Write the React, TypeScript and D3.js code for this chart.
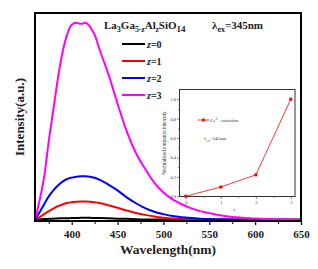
import React, { useEffect, useRef } from 'react';
import * as d3 from 'd3';

// emission spectra (normalised so z=3 peak = 1)
const wavelengths = [360, 365, 370, 375, 380, 385, 390, 395, 400, 405, 410, 415, 420, 425, 430, 440, 450, 460, 470, 480, 490, 500, 510, 520, 530, 540, 550, 560, 575, 600, 625, 650];
const z0 = [0, 0.003, 0.005, 0.006, 0.007, 0.008, 0.009, 0.009, 0.01, 0.01, 0.011, 0.011, 0.011, 0.01, 0.01, 0.009, 0.007, 0.006, 0.004, 0.003, 0.003, 0.002, 0.002, 0.002, 0.001, 0.001, 0.001, 0.001, 0.001, 0.001, 0.001, 0.001];
const z1 = [0, 0.015, 0.03, 0.045, 0.058, 0.07, 0.079, 0.086, 0.09, 0.093, 0.094, 0.094, 0.093, 0.09, 0.086, 0.075, 0.062, 0.048, 0.036, 0.026, 0.018, 0.012, 0.008, 0.006, 0.004, 0.003, 0.002, 0.002, 0.001, 0.001, 0.001, 0.001];
const z2 = [0, 0.04, 0.08, 0.12, 0.15, 0.175, 0.195, 0.208, 0.215, 0.22, 0.222, 0.222, 0.22, 0.214, 0.205, 0.18, 0.15, 0.115, 0.085, 0.06, 0.042, 0.03, 0.02, 0.014, 0.01, 0.007, 0.005, 0.004, 0.003, 0.002, 0.001, 0.001];
const z3 = [0, 0.1, 0.22, 0.4, 0.56, 0.72, 0.85, 0.94, 0.99, 1.0, 0.995, 1.0, 0.98, 0.94, 0.87, 0.74, 0.59, 0.45, 0.34, 0.26, 0.19, 0.14, 0.105, 0.08, 0.06, 0.045, 0.035, 0.025, 0.015, 0.008, 0.004, 0.002];
const seriesNames = ['z=0', 'z=1', 'z=2', 'z=3'];
const seriesColors = ['#000000', '#ff0000', '#0000ff', '#ff00ff'];
const xTicks = [400, 450, 500, 550, 600, 650];

// inset: normalised Ce3+ emission intensity
const insetZ = [0, 1, 2, 3];
const insetVals = [0.0, 0.095, 0.22, 1.0];
const insetYTicks = [0, 0.2, 0.4, 0.6, 0.8, 1.0];

const W = 318;
const H = 269;

function Chart() {
  const ref = useRef<SVGSVGElement>(null);

  useEffect(() => {
    const svg = d3.select(ref.current);
    svg.selectAll('*').remove();
    const font = 'Liberation Serif, Times New Roman, serif';

    const left = 35, right = 301, top = 13, bottom = 221;
    const x = d3.scaleLinear().domain([360, 650]).range([left, right]);
    const y = d3.scaleLinear().domain([-0.005, 1.05]).range([bottom, top]);

    const line = d3.line<[number, number]>()
      .x(d => x(d[0]))
      .y(d => y(d[1]))
      .curve(d3.curveMonotoneX);

    const allSeries = [z0, z1, z2, z3];
    const g = svg.append('g');
    allSeries.forEach((vals, i) => {
      g.append('path')
        .attr('d', line(wavelengths.map((w, k) => [w, vals[k]] as [number, number])))
        .attr('fill', 'none')
        .attr('stroke', seriesColors[i])
        .attr('stroke-width', 2);
    });

    // bottom axis
    const xAxis = svg.append('g')
      .attr('transform', `translate(0,${bottom})`)
      .call(d3.axisBottom(x).tickValues(xTicks).tickSize(4).tickFormat(d3.format('d')));
    xAxis.select('.domain').remove();
    xAxis.selectAll('line').attr('stroke', '#000').attr('stroke-width', 1.2);
    xAxis.selectAll('text')
      .attr('font-family', font).attr('font-weight', 'bold').attr('font-size', 11)
      .attr('fill', '#222').attr('dy', '0.9em');
    const minor = svg.append('g')
      .attr('transform', `translate(0,${bottom})`)
      .call(d3.axisBottom(x).tickValues([375, 425, 475, 525, 575, 625]).tickSize(3).tickFormat(() => ''));
    minor.select('.domain').remove();
    minor.selectAll('line').attr('stroke', '#000').attr('stroke-width', 1);

    // frame
    svg.append('rect')
      .attr('x', left).attr('y', top)
      .attr('width', right - left).attr('height', bottom - top)
      .attr('fill', 'none').attr('stroke', '#000').attr('stroke-width', 2);

    // axis titles
    svg.append('text')
      .attr('x', (left + right) / 2).attr('y', 254)
      .attr('text-anchor', 'middle')
      .attr('font-family', font).attr('font-weight', 'bold').attr('font-size', 13.5)
      .attr('fill', '#222')
      .text('Wavelength(nm)');
    svg.append('text')
      .attr('transform', `translate(24,${(top + bottom) / 2}) rotate(-90)`)
      .attr('text-anchor', 'middle')
      .attr('font-family', font).attr('font-weight', 'bold').attr('font-size', 13)
      .attr('fill', '#222')
      .text('Intensity(a.u.)');

    // title
    const title = svg.append('text')
      .attr('x', 104).attr('y', 29)
      .attr('font-family', font).attr('font-weight', 'bold').attr('font-size', 11)
      .attr('fill', '#222');
    title.append('tspan').text('La');
    title.append('tspan').attr('font-size', 8).attr('dy', 2.5).text('3');
    title.append('tspan').attr('dy', -2.5).text('Ga');
    title.append('tspan').attr('font-size', 8).attr('dy', 2.5).text('5-');
    title.append('tspan').attr('font-size', 8).attr('font-style', 'italic').text('z');
    title.append('tspan').attr('dy', -2.5).text('Al');
    title.append('tspan').attr('font-size', 8).attr('font-style', 'italic').attr('dy', 2.5).text('z');
    title.append('tspan').attr('dy', -2.5).text('SiO');
    title.append('tspan').attr('font-size', 9).attr('dy', 2.5).text('14');
    const lam = svg.append('text')
      .attr('x', 212).attr('y', 29)
      .attr('font-family', font).attr('font-weight', 'bold').attr('font-size', 11)
      .attr('fill', '#222');
    lam.append('tspan').text('λ');
    lam.append('tspan').attr('font-size', 8).attr('dy', 2.5).text('ex');
    lam.append('tspan').attr('dy', -2.5).text('=345nm');

    // legend
    seriesNames.forEach((name, i) => {
      const ly = 44 + i * 17;
      svg.append('line')
        .attr('x1', 122).attr('x2', 145).attr('y1', ly).attr('y2', ly)
        .attr('stroke', seriesColors[i]).attr('stroke-width', 2);
      const t = svg.append('text')
        .attr('x', 147).attr('y', ly + 3.5)
        .attr('font-family', font).attr('font-weight', 'bold').attr('font-size', 10)
        .attr('fill', '#222');
      t.append('tspan').attr('font-style', 'italic').text(name.slice(0, 1));
      t.append('tspan').text(name.slice(1));
    });

    // inset
    const il = 179.5, ir = 295, it = 89.5, ib = 196.5;
    const ix = d3.scaleLinear().domain([-0.18, 3.12]).range([il, ir]);
    const iy = d3.scaleLinear().domain([-0.003, 1.1]).range([ib, it]);
    svg.append('rect')
      .attr('x', il).attr('y', it).attr('width', ir - il).attr('height', ib - it)
      .attr('fill', '#fff').attr('stroke', '#333').attr('stroke-width', 1);

    const iyAxis = svg.append('g')
      .attr('transform', `translate(${il},0)`)
      .call(d3.axisLeft(iy).tickValues(insetYTicks).tickSize(2.5).tickPadding(1).tickFormat(d3.format('.1f')));
    iyAxis.select('.domain').remove();
    iyAxis.selectAll('line').attr('stroke', '#333').attr('stroke-width', 0.6);
    iyAxis.selectAll('text').attr('font-family', font).attr('font-size', 4.5).attr('fill', '#333');
    const iyMinor = svg.append('g')
      .attr('transform', `translate(${il},0)`)
      .call(d3.axisLeft(iy).tickValues([0.1, 0.3, 0.5, 0.7, 0.9]).tickSize(1.5).tickFormat(() => ''));
    iyMinor.select('.domain').remove();
    iyMinor.selectAll('line').attr('stroke', '#333').attr('stroke-width', 0.5);

    const ixAxis = svg.append('g')
      .attr('transform', `translate(0,${ib})`)
      .call(d3.axisBottom(ix).tickValues(insetZ).tickSize(2.5).tickPadding(2).tickFormat(d3.format('d')));
    ixAxis.select('.domain').remove();
    ixAxis.selectAll('line').attr('stroke', '#333').attr('stroke-width', 0.6);
    ixAxis.selectAll('text').attr('font-family', font).attr('font-size', 4.5).attr('fill', '#333');
    const ixMinor = svg.append('g')
      .attr('transform', `translate(0,${ib})`)
      .call(d3.axisBottom(ix).tickValues([0.5, 1.5, 2.5]).tickSize(1.5).tickFormat(() => ''));
    ixMinor.select('.domain').remove();
    ixMinor.selectAll('line').attr('stroke', '#333').attr('stroke-width', 0.5);

    svg.append('text')
      .attr('x', (il + ir) / 2 - 3).attr('y', 211)
      .attr('text-anchor', 'middle')
      .attr('font-family', font).attr('font-style', 'italic').attr('font-size', 5)
      .attr('fill', '#333').text('z');
    svg.append('text')
      .attr('transform', `translate(166,${(it + ib) / 2}) rotate(-90)`)
      .attr('text-anchor', 'middle')
      .attr('font-family', font).attr('font-size', 5.2)
      .attr('fill', '#333').text('Normalized emission intensity');

    const iline = d3.line<number>()
      .x((_, k) => ix(insetZ[k]))
      .y(d => iy(d));
    svg.append('path')
      .attr('d', iline(insetVals))
      .attr('fill', 'none').attr('stroke', '#ff0000').attr('stroke-width', 0.8);
    svg.selectAll('rect.pt')
      .data(insetVals)
      .join('rect')
      .attr('class', 'pt')
      .attr('x', (_, k) => ix(insetZ[k]) - 1.5)
      .attr('y', d => iy(d) - 1.5)
      .attr('width', 3).attr('height', 3)
      .attr('fill', '#ff0000');

    // inset legend
    svg.append('line')
      .attr('x1', 198).attr('x2', 209).attr('y1', 120).attr('y2', 120)
      .attr('stroke', '#ff0000').attr('stroke-width', 0.8);
    svg.append('rect')
      .attr('x', 202).attr('y', 118.6).attr('width', 2.8).attr('height', 2.8)
      .attr('fill', '#ff0000');
    const ce = svg.append('text')
      .attr('x', 210).attr('y', 121.5)
      .attr('font-family', font).attr('font-size', 5)
      .attr('fill', '#333');
    ce.append('tspan').text('Ce');
    ce.append('tspan').attr('font-size', 3.5).attr('dy', -2).text('3+');
    ce.append('tspan').attr('dy', 2).text(' emission');
    const il2 = svg.append('text')
      .attr('x', 204).attr('y', 140)
      .attr('font-family', font).attr('font-size', 5)
      .attr('fill', '#333');
    il2.append('tspan').text('λ');
    il2.append('tspan').attr('font-size', 3.5).attr('dy', 1.5).text('ex');
    il2.append('tspan').attr('dy', -1.5).text('=345nm');
  }, []);

  return <svg ref={ref} width={W} height={H} style={{ position: 'absolute', left: 0, top: 0, background: '#fff' }} />;
}

export default function App() {
  return <Chart />;
}
